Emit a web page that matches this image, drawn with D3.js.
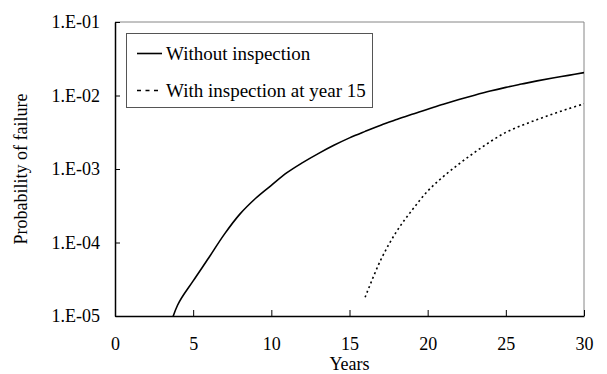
<!DOCTYPE html>
<html>
<head>
<meta charset="utf-8">
<script src="https://cdn.jsdelivr.net/npm/d3@7"></script>
<style>
  html, body { margin: 0; padding: 0; background: #fff; }
  svg, svg text { font-family: 'Liberation Serif', 'Times New Roman', 'DejaVu Serif', serif !important; fill: #000; }
</style>
</head>
<body>
<div id="chart"></div>
<script>
// Years and failure probabilities
const yearsWithout = [3, 4, 5, 6, 7, 8, 9, 10, 11, 12, 13, 14, 15, 16, 17, 18, 19, 20, 21, 22, 23, 24, 25, 26, 27, 28, 29, 30];
const pfWithout = [3.0e-6, 1.4e-5, 3.0e-5, 6.2e-5, 1.3e-4, 2.45e-4, 4.0e-4, 6.0e-4, 8.9e-4, 1.22e-3, 1.62e-3, 2.1e-3, 2.65e-3, 3.25e-3,
    3.95e-3, 4.7e-3, 5.56e-3, 6.5e-3, 7.6e-3, 8.8e-3, 1.01e-2, 1.15e-2, 1.29e-2, 1.43e-2, 1.58e-2, 1.73e-2, 1.88e-2, 2.05e-2];

const yearsWith = [16, 17, 18, 19, 20, 21, 22, 23, 24, 25, 26, 27, 28, 29, 30];
const pfWith = [1.8e-5, 5.8e-5, 1.4e-4, 2.75e-4, 5.0e-4, 7.9e-4, 1.17e-3, 1.68e-3, 2.35e-3, 3.15e-3, 3.9e-3, 4.7e-3, 5.6e-3, 6.6e-3, 7.7e-3];

const xTicks = [0, 5, 10, 15, 20, 25, 30];
const yTicks = [1e-5, 1e-4, 1e-3, 1e-2, 1e-1];
const seriesNames = ['Without inspection', 'With inspection at year 15'];

const FONT = "'Liberation Serif', 'Times New Roman', serif";
const width = 607, height = 374;
const margin = { top: 22, right: 23, bottom: 58, left: 115 };

const svg = d3.select('#chart')
    .append('svg')
    .attr('width', width)
    .attr('height', height)
    .attr('font-family', FONT);

const x = d3.scaleLinear()
    .domain([0, 30])
    .range([margin.left, width - margin.right]);

const y = d3.scaleLog()
    .domain([1e-5, 1e-1])
    .range([height - margin.bottom, margin.top]);

// clip lines to the plot area
svg.append('clipPath')
    .attr('id', 'plot-clip')
    .append('rect')
    .attr('x', x(0))
    .attr('y', y(1e-1))
    .attr('width', x(30) - x(0))
    .attr('height', y(1e-5) - y(1e-1));

// top & right frame (grey)
svg.append('path')
    .attr('d', `M${x(0)},${y(1e-1)}H${x(30)}V${y(1e-5)}`)
    .attr('fill', 'none')
    .attr('stroke', '#868686')
    .attr('stroke-width', 1);

const fmt = d => '1.E-' + String(Math.round(-Math.log10(d))).padStart(2, '0');

const yAxis = svg.append('g')
    .attr('transform', `translate(${x(0)},0)`)
    .call(d3.axisLeft(y).tickValues(yTicks).tickFormat(fmt).tickSizeInner(-5).tickSizeOuter(0).tickPadding(15));

const xAxis = svg.append('g')
    .attr('transform', `translate(0,${y(1e-5)})`)
    .call(d3.axisBottom(x).tickValues(xTicks).tickFormat(d3.format('d')).tickSizeInner(-6).tickSizeOuter(0).tickPadding(21));

[yAxis, xAxis].forEach(g => {
    g.attr('font-family', FONT).attr('font-size', 18);
    g.select('.domain').attr('stroke', '#000').attr('stroke-width', 1.5);
    g.selectAll('.tick line').attr('stroke', '#000').attr('stroke-width', 1);
});

// axis titles
svg.append('text')
    .attr('x', (x(0) + x(30)) / 2)
    .attr('y', 369.5)
    .attr('text-anchor', 'middle')
    .attr('font-size', 18)
    .text('Years');

svg.append('text')
    .attr('transform', `translate(27,${(y(1e-5) + y(1e-1)) / 2}) rotate(-90)`)
    .attr('text-anchor', 'middle')
    .attr('font-size', 18)
    .text('Probability of failure');

const line = d3.line()
    .x(d => x(d[0]))
    .y(d => y(d[1]))
    .curve(d3.curveCatmullRom.alpha(0.5));

const lines = svg.append('g').attr('clip-path', 'url(#plot-clip)');

lines.append('path')
    .datum(d3.zip(yearsWithout, pfWithout))
    .attr('d', line)
    .attr('fill', 'none')
    .attr('stroke', '#000')
    .attr('stroke-width', 1.6);

lines.append('path')
    .datum(d3.zip(yearsWith, pfWith))
    .attr('d', line)
    .attr('fill', 'none')
    .attr('stroke', '#000')
    .attr('stroke-width', 1.6)
    .attr('stroke-dasharray', '2,3');

// legend
const legend = svg.append('g');

legend.append('rect')
    .attr('x', 126.5)
    .attr('y', 33.5)
    .attr('width', 246)
    .attr('height', 74)
    .attr('fill', '#fff')
    .attr('stroke', '#555')
    .attr('stroke-width', 1);

const dashes = [null, '4,4.5'];
seriesNames.forEach((name, i) => {
    const ly = 53.5 + i * 37;
    legend.append('line')
        .attr('x1', 137)
        .attr('x2', 162)
        .attr('y1', ly)
        .attr('y2', ly)
        .attr('stroke', '#000')
        .attr('stroke-width', 1.6)
        .attr('stroke-dasharray', dashes[i]);
    legend.append('text')
        .attr('x', 166)
        .attr('y', ly + 6.5)
        .attr('font-size', 19)
        .text(name);
});
</script>
</body>
</html>
